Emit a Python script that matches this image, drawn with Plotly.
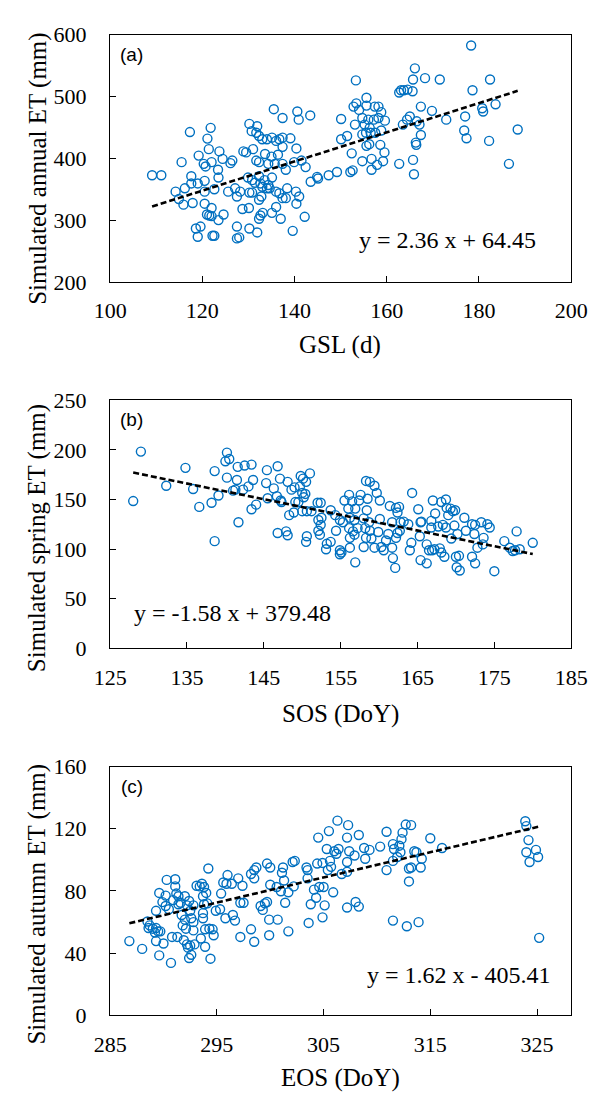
import plotly.graph_objects as go

# ---------------- data ----------------
# Panel (a): GSL (d) vs simulated annual ET (mm)
gsl = [109.1,111.1,115.5,117.3,114.2,116.2,114.9,115.9,117.9,117.6,117.6,119.2,119.0,120.3,120.7,120.5,120.5,121.1,121.8,121.4,
       122.0,122.6,123.4,123.5,123.7,124.4,120.5,122.0,121.0,121.5,122.0,123.5,124.6,118.6,119.6,119.0,122.2,122.6,125.6,126.1,
       126.5,127.1,127.5,128.2,128.7,130.1,127.5,127.5,128.0,130.2,131.9,128.9,129.5,130.2,130.7,131.9,131.7,132.3,133.0,130.2,
       130.8,129.9,131.0,131.7,132.3,130.8,131.4,132.3,132.6,133.0,133.5,134.0,134.3,134.6,135.1,132.3,132.8,132.3,132.6,133.1,
       135.1,134.3,135.0,135.7,133.6,134.0,135.1,136.0,135.5,137.4,136.7,137.4,137.4,136.4,137.4,138.1,136.0,136.7,137.4,138.4,
       138.1,136.0,137.0,139.1,139.9,140.4,140.6,140.9,140.3,141.0,140.4,139.6,141.5,142.4,142.2,143.4,143.5,144.9,145.1,147.4,
       149.2,150.1,150.1,
       153.3,152.8,153.4,154.0,155.6,155.6,154.7,155.2,156.0,157.4,158.2,158.8,159.6,157.2,158.2,156.3,155.5,154.7,156.5,157.5,
       158.8,153.1,156.2,155.6,158.6,151.4,152.4,159.5,159.2,156.7,154.7,157.9,156.7,152.1,152.6,162.7,162.7,163.1,163.7,164.5,
       165.6,166.1,165.7,168.3,171.5,167.4,169.8,163.5,164.4,165.0,166.5,167.1,167.4,166.3,166.4,165.7,165.9,172.9,177.0,176.8,
       177.3,178.6,178.3,182.4,180.7,180.9,183.6,182.2,186.5,188.4]
et_annual = [372.5,372.5,393.7,442.4,346.0,351.4,334.0,325.0,327.6,371.0,359.3,404.3,359.3,391.0,386.8,363.5,346.0,431.8,449.2,414.8,
             393.7,349.8,381.5,368.8,411.1,399.0,326.5,319.6,309.0,307.4,306.4,300.0,309.0,286.3,289.5,273.1,274.7,274.7,346.0,392.1,
             396.3,351.4,338.1,346.0,318.0,319.6,289.5,270.4,272.0,286.3,280.0,411.1,409.5,455.6,443.9,451.9,441.3,436.0,430.7,344.5,
             344.5,368.8,414.8,396.3,393.7,364.6,360.4,371.0,359.3,354.0,364.6,351.4,356.7,351.4,368.8,332.8,338.1,302.2,307.4,311.7,
             311.7,391.0,402.7,391.0,406.9,430.7,433.4,428.1,479.4,465.1,430.7,433.4,418.5,405.8,391.0,381.5,346.0,343.4,335.5,351.4,
             335.5,321.2,302.2,432.3,393.7,415.9,475.7,462.5,346.0,338.1,326.5,282.6,396.3,385.7,305.3,469.3,362.0,369.9,367.2,372.5,
             377.8,463.5,430.7,
             526.0,483.6,488.9,478.3,497.9,485.2,465.1,454.5,462.5,483.6,483.6,474.6,460.9,462.5,465.1,449.2,441.3,438.6,441.3,441.3,
             445.0,454.5,422.8,420.1,421.7,436.0,408.0,409.5,395.3,399.0,395.3,389.4,381.5,377.8,380.5,391.0,506.4,510.0,510.0,511.1,
             508.5,545.5,527.5,529.6,527.5,483.6,476.7,454.5,462.5,467.7,459.8,454.5,437.6,425.4,421.7,397.4,374.1,462.5,467.7,445.0,
             432.3,510.0,582.5,527.5,481.0,475.7,487.3,428.1,391.0,446.6]

# Panel (b): SOS (DoY) vs simulated spring ET (mm)
sos = [128.0,129.0,132.3,134.8,135.8,136.6,138.2,138.6,139.1,138.6,140.2,140.0,140.5,140.2,141.0,141.3,141.5,141.6,141.7,142.5,
       143.4,142.3,143.0,143.6,143.4,144.0,145.4,145.3,145.5,146.3,146.8,147.1,146.7,147.2,147.3,146.8,147.9,148.1,148.1,148.6,
       149.0,148.3,148.9,149.1,149.5,149.8,150.1,150.5,151.0,149.7,150.0,150.4,150.2,150.0,150.6,151.2,150.6,150.5,152.0,152.4,
       152.1,152.4,152.1,152.5,152.3,153.2,153.7,153.1,153.7,154.4,154.3,154.9,155.1,154.9,155.5,154.9,155.3,
       156.1,156.5,156.0,156.9,156.2,156.8,156.1,156.6,157.2,156.2,156.8,156.2,156.9,157.6,157.4,158.3,158.8,159.4,159.7,158.5,
       160.1,158.4,158.0,158.7,158.2,158.8,158.3,159.0,158.0,159.4,159.9,160.1,160.3,160.6,160.9,161.2,161.7,161.8,162.1,161.4,
       161.7,162.2,162.6,162.4,162.2,162.4,162.8,163.2,163.8,162.7,164.3,164.2,164.0,165.1,165.4,165.5,165.3,165.4,166.2,166.2,
       166.5,166.9,166.8,167.0,167.3,166.8,167.7,167.2,167.9,168.1,168.1,168.7,168.3,168.8,169.0,168.7,168.5,169.3,169.6,169.9,
       169.8,169.4,170.2,170.0,170.4,170.1,170.5,171.1,171.3,172.1,172.4,172.5,172.8,172.1,172.5,173.3,174.1,174.4,173.6,173.5,
       175.0,176.3,177.0,177.4,177.9,178.3,177.7,180.0]
et_spring = [148.5,198.4,163.9,182.0,160.6,142.6,146.8,178.7,154.1,108.1,197.4,188.6,190.9,172.1,159.0,160.0,169.8,183.0,127.1,184.3,
             185.3,160.0,163.3,169.8,140.3,144.9,179.7,166.6,151.4,161.3,183.6,171.1,153.4,149.1,147.5,116.3,117.9,114.0,167.9,160.0,
             162.3,134.3,137.0,147.5,147.5,173.8,171.1,167.9,176.4,163.3,156.7,155.7,152.4,138.3,138.3,138.3,113.0,107.4,146.8,146.8,
             129.4,124.5,118.6,131.7,114.6,105.4,107.4,99.9,139.3,118.6,134.3,98.9,96.6,94.9,149.1,129.4,127.1,
             154.7,148.2,140.9,140.9,131.7,129.4,121.2,117.9,121.2,111.4,114.6,101.5,86.7,154.7,149.1,168.8,167.9,163.9,156.7,150.8,
             149.1,139.3,131.1,127.1,121.2,118.6,111.4,110.7,102.2,101.5,117.3,130.4,102.2,98.9,108.7,115.3,101.5,91.0,81.1,143.6,
             127.1,141.6,142.6,137.0,111.4,116.3,127.1,127.8,125.2,118.6,156.7,106.4,98.9,140.3,127.1,127.8,113.0,89.0,85.7,104.8,
             98.9,98.9,128.5,149.1,136.0,121.9,122.9,99.9,100.8,96.6,147.5,150.1,124.5,141.6,134.3,121.9,92.3,140.9,138.3,139.3,
             123.8,110.7,115.3,92.3,93.3,81.8,78.5,131.7,118.6,125.2,115.3,124.5,101.5,92.3,85.7,127.1,125.2,121.9,111.4,104.8,
             77.8,108.1,101.5,98.2,117.9,99.9,98.9,106.4]

# Panel (c): EOS (DoY) vs simulated autumn ET (mm)
eos = [286.8,288.0,288.5,288.7,288.6,289.3,289.0,289.2,289.3,289.5,289.7,289.6,289.3,290.0,289.6,289.9,290.2,290.3,290.2,290.5,
       290.7,290.8,291.1,291.1,290.9,291.2,291.4,291.4,291.6,291.7,291.3,291.9,291.8,292.0,292.1,292.2,292.3,292.4,292.6,292.5,
       292.0,292.2,292.4,292.8,292.5,292.6,292.8,292.8,292.9,293.1,293.4,293.6,293.8,293.7,293.8,293.7,293.7,293.5,293.9,294.0,
       294.1,294.2,293.9,294.3,294.6,294.4,294.7,294.9,295.4,295.3,295.6,295.8,296.0,295.9,296.4,296.5,296.7,297.0,297.2,297.2,
       297.4,297.5,298.2,298.5,298.2,298.5,298.7,298.5,299.1,299.3,299.5,299.7,299.7,300.0,300.0,299.9,299.9,300.6,300.7,301.0,
       301.1,301.2,301.3,301.4,301.7,301.7,302.1,302.3,302.2,303.4,303.5,303.5,303.8,303.6,304.1,304.3,304.4,304.5,304.6,304.9,
       305.0,305.1,304.9,305.3,305.4,305.5,305.6,305.7,305.9,306.0,306.2,306.3,306.4,306.7,
       307.3,307.2,307.4,307.2,307.9,307.2,307.2,308.0,308.3,308.3,308.8,309.3,308.9,310.3,310.9,311.5,311.6,312.1,312.3,312.4,
       312.7,313.2,312.2,311.9,311.5,310.9,313.0,313.2,313.0,313.5,313.7,314.2,314.1,311.5,312.8,313.9,315.0,316.1,323.9,324.0,
       324.2,324.0,324.3,324.9,325.1,325.2]
et_autumn = [47.7,42.7,60.3,57.8,56.1,67.2,55.7,53.2,56.1,54.0,54.0,38.5,47.7,46.2,78.7,72.8,77.0,87.1,70.3,68.2,
             33.7,50.4,82.9,87.5,74.1,78.3,76.6,71.4,72.4,64.5,50.4,48.3,57.8,61.5,55.7,45.6,43.5,36.8,38.9,44.8,
             76.6,70.7,73.5,70.7,67.2,62.4,59.9,54.6,45.6,83.3,82.9,84.6,82.5,76.6,71.4,65.7,62.4,49.4,44.1,78.7,
             72.0,94.4,55.3,55.7,55.3,36.4,51.5,67.2,78.3,68.2,85.4,62.4,90.2,84.6,84.6,64.5,60.9,88.1,72.4,50.4,
             83.3,72.4,55.3,47.3,90.9,93.4,95.1,88.1,70.3,67.8,72.0,72.9,97.6,95.1,84.0,61.5,51.5,82.5,61.5,79.8,
             91.7,95.1,86.7,72.4,79.1,54.0,98.6,99.3,82.9,95.1,93.4,88.1,71.4,59.4,80.8,75.6,97.6,114.3,82.5,98.0,
             82.5,70.7,63.0,107.0,93.4,118.5,99.3,95.5,79.1,105.5,103.9,125.2,107.0,90.9,
             122.3,114.3,105.5,98.6,102.8,92.3,69.3,72.9,69.9,116.0,107.6,106.4,100.7,108.5,118.1,110.1,107.0,109.1,113.3,117.5,
             122.7,122.3,104.9,101.8,99.3,93.4,94.4,95.1,86.1,105.5,104.9,100.7,95.1,60.9,57.3,59.9,113.9,107.6,124.8,121.7,
             112.7,104.9,98.6,106.4,101.8,49.8]

# fitted linear trends (slope, intercept) as given in the panels
fit_a = (2.36, 64.45)
fit_b = (-1.58, 379.48)
fit_c = (1.62, -405.41)

x_ticks_a = [100, 120, 140, 160, 180, 200]
y_ticks_a = [200, 300, 400, 500, 600]
x_ticks_b = [125, 135, 145, 155, 165, 175, 185]
y_ticks_b = [0, 50, 100, 150, 200, 250]
x_ticks_c = [285, 295, 305, 315, 325]
y_ticks_c = [0, 40, 80, 120, 160]

eq_a = "y = 2.36 x + 64.45"
eq_b = "y = -1.58 x + 379.48"
eq_c = "y = 1.62 x - 405.41"

# ---------------- figure ----------------
W, H = 600, 1096
BLUE = "#0070C0"
SERIF = "Liberation Serif, Times New Roman, serif"
SANS = "Liberation Sans, Arial, sans-serif"

def px(x):
    return x / W

def py(y):
    return 1 - y / H

fig = go.Figure()

panels = [
    (gsl, et_annual, fit_a, "x", "y"),
    (sos, et_spring, fit_b, "x2", "y2"),
    (eos, et_autumn, fit_c, "x3", "y3"),
]
for xs, ys, (m, b), xa, ya in panels:
    fig.add_trace(go.Scatter(
        x=xs, y=ys, mode="markers", xaxis=xa, yaxis=ya,
        marker=dict(symbol="circle-open", size=9, color=BLUE, line=dict(width=1.4, color=BLUE)),
        showlegend=False, hoverinfo="skip"))
    x0, x1 = min(xs), max(xs)
    fig.add_trace(go.Scatter(
        x=[x0, x1], y=[m * x0 + b, m * x1 + b], mode="lines", xaxis=xa, yaxis=ya,
        line=dict(color="black", width=2.6, dash="6px,3px"),
        showlegend=False, hoverinfo="skip"))

x_dom = [px(91), px(578)]
doms = [
    [py(268), py(15)],
    [py(643), py(389.3)],
    [py(1018.5), py(764)],
]

def xaxis(rng, ticks, anchor):
    return dict(domain=x_dom, range=rng, tickvals=ticks, ticks="inside", ticklen=6, tickwidth=1.3,
                tickcolor="black", showline=True, linecolor="black", linewidth=1.3, mirror=True,
                showgrid=False, zeroline=False, anchor=anchor,
                tickfont=dict(family=SERIF, size=22, color="black"), ticklabelstandoff=9)

def yaxis(dom, rng, ticks, anchor):
    return dict(domain=dom, range=rng, tickvals=ticks, ticks="inside", ticklen=6, tickwidth=1.3,
                tickcolor="black", showline=True, linecolor="black", linewidth=1.3, mirror=True,
                showgrid=False, zeroline=False, anchor=anchor,
                tickfont=dict(family=SERIF, size=22, color="black"), ticklabelstandoff=18)

layout = dict(
    width=W, height=H, margin=dict(l=0, r=0, t=0, b=0),
    paper_bgcolor="white", plot_bgcolor="white",
    xaxis=xaxis([100, 200], x_ticks_a, "y"),
    yaxis=yaxis(doms[0], [200, 600], y_ticks_a, "x"),
    xaxis2=xaxis([125, 185], x_ticks_b, "y2"),
    yaxis2=yaxis(doms[1], [0, 250], y_ticks_b, "x2"),
    xaxis3=xaxis([285, 328.2], x_ticks_c, "y3"),
    yaxis3=yaxis(doms[2], [0, 160], y_ticks_c, "x3"),
)
fig.update_layout(**layout)

ann = []
def add_text(text, x, y, size, family, angle=0):
    ann.append(dict(text=text, x=px(x), y=py(y), xref="paper", yref="paper", showarrow=False,
                    xanchor="center", yanchor="middle", textangle=angle,
                    font=dict(family=family, size=size, color="black")))

# panel labels
add_text("(a)", 114, 35, 19, SANS)
add_text("(b)", 114, 409, 19, SANS)
add_text("(c)", 114, 784, 19, SANS)
# regression equations
add_text(eq_a, 447, 225, 24, SERIF)
add_text(eq_b, 220, 607, 24, SERIF)
add_text(eq_c, 460, 977, 24, SERIF)
# axis titles
add_text("GSL (d)", 334, 333, 25, SERIF)
add_text("SOS (DoY)", 334, 710, 25, SERIF)
add_text("EOS (DoY)", 334, 1083, 25, SERIF)
add_text("Simulated annual ET (mm)", 14, 152, 25, SERIF, -90)
add_text("Simulated spring ET (mm)", 14, 530, 25, SERIF, -90)
add_text("Simulated autumn ET (mm)", 14, 905, 25, SERIF, -90)
fig.update_layout(annotations=ann)

fig.write_html("out.html")
